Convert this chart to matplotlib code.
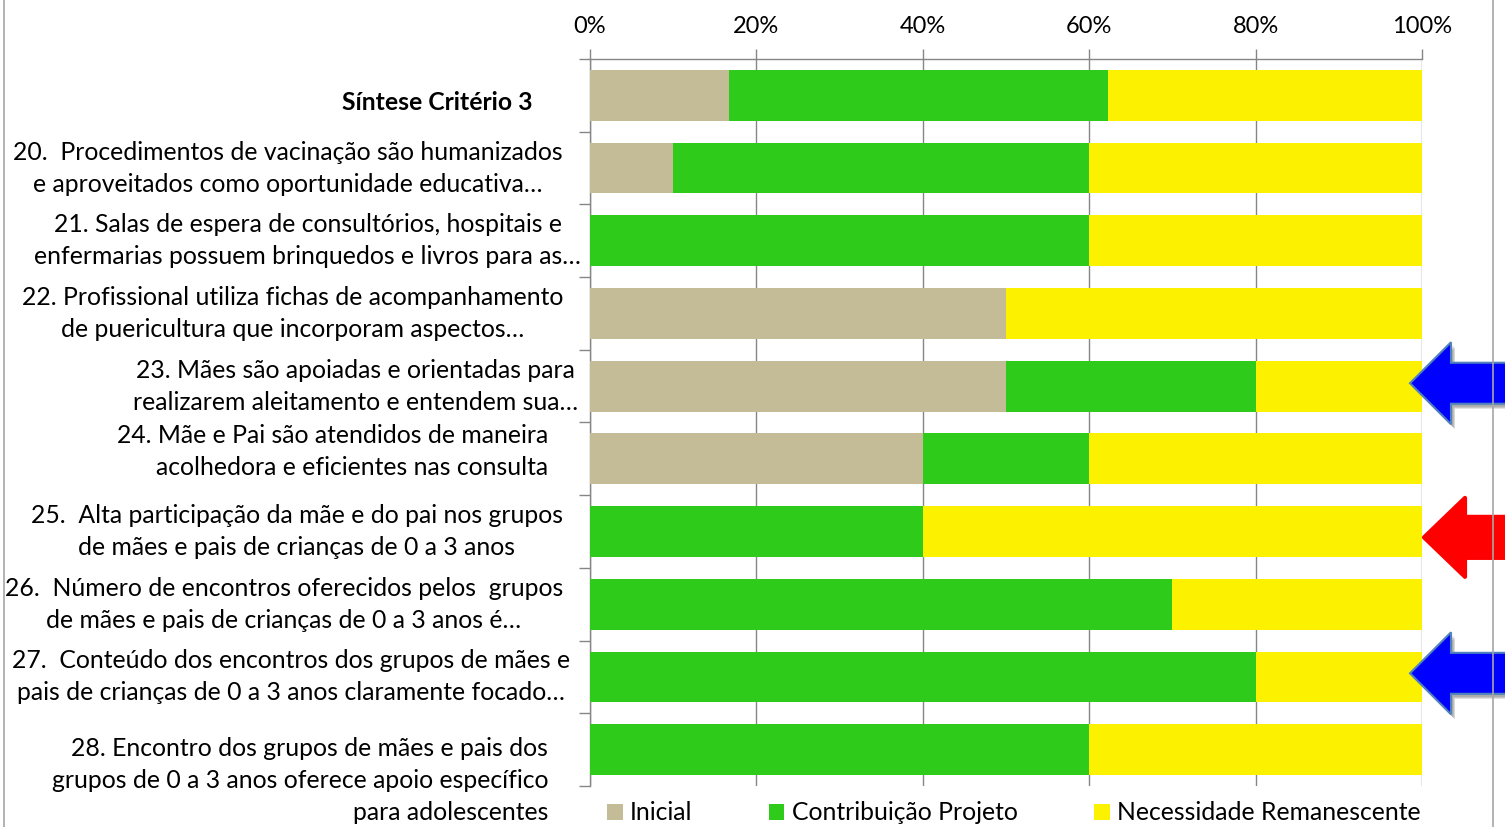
import matplotlib
matplotlib.use('Agg')
import matplotlib.pyplot as plt
import matplotlib.transforms as mtransforms
from matplotlib.patches import Polygon, Rectangle, Patch
import numpy as np

# ---------------- data ----------------
categories = [
    "Síntese Critério 3",
    "20.  Procedimentos de vacinação são humanizados\ne aproveitados como oportunidade educativa…",
    "21. Salas de espera de consultórios, hospitais e\nenfermarias possuem brinquedos e livros para as…",
    "22. Profissional utiliza fichas de acompanhamento\nde puericultura que incorporam aspectos…",
    "23. Mães são apoiadas e orientadas para\nrealizarem aleitamento e entendem sua…",
    "24. Mãe e Pai são atendidos de maneira\nacolhedora e eficientes nas consulta",
    "25.  Alta participação da mãe e do pai nos grupos\nde mães e pais de crianças de 0 a 3 anos",
    "26.  Número de encontros oferecidos pelos  grupos\nde mães e pais de crianças de 0 a 3 anos é…",
    "27.  Conteúdo dos encontros dos grupos de mães e\npais de crianças de 0 a 3 anos claramente focado…",
    "28. Encontro dos grupos de mães e pais dos\ngrupos de 0 a 3 anos oferece apoio específico\npara adolescentes",
]
inicial = [16.7, 10, 0, 50, 50, 40, 0, 0, 0, 0]
contribuicao = [45.5, 50, 60, 0, 30, 20, 40, 70, 80, 60]
necessidade = [37.8, 40, 40, 50, 20, 40, 60, 30, 20, 40]
series_names = ["Inicial", "Contribuição Projeto", "Necessidade Remanescente"]
xtick_values = [0, 20, 40, 60, 80, 100]
xtick_labels = ["0%", "20%", "40%", "60%", "80%", "100%"]
arrow_rows = [4, 6, 8]

# ---------------- style / layout ----------------
colors = ["#C4BC96", "#2ECB1B", "#FCF200"]
arrow_colors = ["#0000FF", "#FF0000", "#0000FF"]
arrow_edges = ["#4F81BD", "#FF0000", "#4F81BD"]
label_right_px = [57, 27, 9, 27, 12, 42, 27, 27, 20, 42]   # gap from axis to block right edge
label_dy_px = [7, 0, 0, 0, 0, -7, 0, 0, 0, 31]             # downward offset of label centre
label_align = ["right", "center", "center", "center", "center", "right",
               "center", "center", "center", "right"]
label_font = "Lato"
narrow_font = "Lato"
grey = "#868686"

W, H = 1505, 827
fig = plt.figure(figsize=(W / 100, H / 100), dpi=100)
ax = fig.add_axes([590 / W, 1 - 786 / H, (1422 - 590) / W, (786 - 59) / H])

y = np.arange(len(categories))
ini = np.array(inicial)
con = np.array(contribuicao)
nec = np.array(necessidade)
bh = 0.70
ax.barh(y, ini, height=bh, color=colors[0], label=series_names[0], zorder=3)
ax.barh(y, con, left=ini, height=bh, color=colors[1], label=series_names[1], zorder=3)
ax.barh(y, nec, left=ini + con, height=bh, color=colors[2], label=series_names[2], zorder=3)

ax.set_xlim(0, 100)
ax.set_ylim(len(categories) - 0.5, -0.5)

ax.xaxis.tick_top()
ax.set_xticks(xtick_values)
ax.set_xticklabels(xtick_labels, family=narrow_font, fontsize=17)
ax.tick_params(axis='x', which='major', length=7, color=grey, width=1, pad=9, top=True, bottom=False)
ax.grid(axis='x', color=grey, lw=1, zorder=0)
ax.set_axisbelow(True)

ax.set_yticks(np.arange(-0.5, len(categories), 1))
ax.set_yticklabels([])
ax.tick_params(axis='y', length=8, color=grey, width=1)

for s in ['right', 'bottom']:
    ax.spines[s].set_visible(False)
for s in ['left', 'top']:
    ax.spines[s].set_color(grey)
    ax.spines[s].set_linewidth(1)

# category labels
base = ax.get_yaxis_transform()
for i, lab in enumerate(categories):
    off = mtransforms.ScaledTranslation(-label_right_px[i] / 100, -label_dy_px[i] / 100, fig.dpi_scale_trans)
    ax.text(0, i, lab, transform=base + off, ha='right', va='center',
            multialignment=label_align[i], fontsize=17.8, family=label_font,
            fontweight='bold' if i == 0 else 'normal', linespacing=1.47, color='black')

# arrows (annotation shapes)
arrow_geom = [
    # tip_x, base_x, head_half, shaft_half, dy  (axes x, data y)
    ((1410 - 590) / 832, (1451 - 590) / 832, 0.564, 0.282, -0.04),
    ((1424 - 590) / 832, (1465 - 590) / 832, 0.543, 0.282, 0.08),
    ((1410 - 590) / 832, (1451 - 590) / 832, 0.564, 0.282, -0.05),
]
for k, row in enumerate(arrow_rows):
    xt, xb, hh, sh, dy = arrow_geom[k]
    yc = row + dy
    xe = 1.2
    pts = [(xt, yc), (xb, yc - hh), (xb, yc - sh), (xe, yc - sh),
           (xe, yc + sh), (xb, yc + sh), (xb, yc + hh)]
    if k != 1:
        for j, a in enumerate([0.10, 0.12, 0.15]):
            sh_off = mtransforms.ScaledTranslation((2 + j) / 100, -(3 + j) / 100, fig.dpi_scale_trans)
            ax.add_patch(Polygon(pts, closed=True, transform=base + sh_off, facecolor='black',
                                 edgecolor='none', alpha=a, clip_on=False, zorder=5))
        ax.add_patch(Polygon(pts, closed=True, transform=base, facecolor=arrow_colors[k],
                             edgecolor=arrow_edges[k], lw=1.5, clip_on=False, zorder=6))
    else:
        ax.add_patch(Polygon(pts, closed=True, transform=base, facecolor=arrow_colors[k],
                             edgecolor=arrow_edges[k], lw=3, joinstyle='round',
                             clip_on=False, zorder=6))

# legend
handles = [Patch(facecolor=c, edgecolor='none') for c in colors]
fig.legend(handles, series_names, loc='center', bbox_to_anchor=(1014 / W, 1 - 813 / H),
           ncol=3, frameon=False, handlelength=0.62, handleheight=0.62, handletextpad=0.3,
           columnspacing=3.1, prop={'family': narrow_font, 'size': 17.8}, borderaxespad=0)

# chart-area border
fig.add_artist(Rectangle((4 / W, -0.01), (1493 - 4) / W, 1.02, transform=fig.transFigure,
                         fill=False, edgecolor='#A6A6A6', lw=1.2, zorder=1))

fig.savefig("out.png", dpi=100)
